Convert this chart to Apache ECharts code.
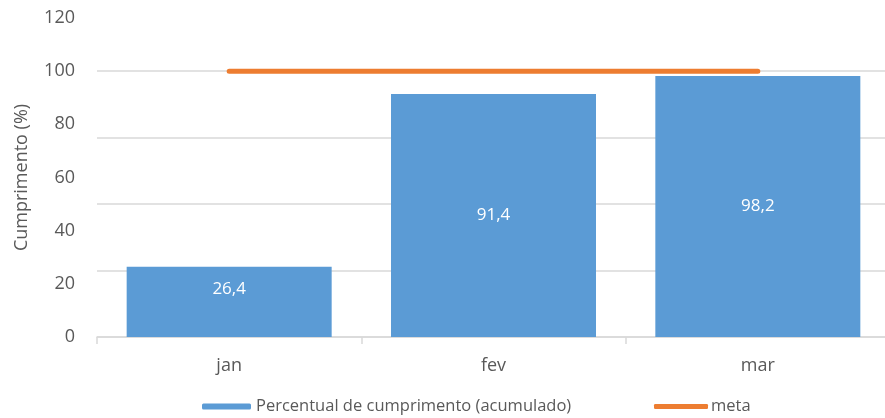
<!DOCTYPE html>
<html>
<head>
<meta charset="utf-8">
<script src="https://cdn.jsdelivr.net/npm/echarts@6/dist/echarts.min.js"></script>
<style>
  html, body { margin: 0; padding: 0; background: #fff; }
  #chart { width: 885px; height: 418px; }
</style>
</head>
<body>
<div id="chart"></div>
<script>
const months = ["jan", "fev", "mar"];
const cumprimento = [26.4, 91.4, 98.2];
const meta = [100, 100, 100];
const yTicks = { min: 0, max: 120, interval: 20 };

const FONT = "Open Sans";
const TXT = "#595959";
const GRID = "#D9D9D9";

const chart = echarts.init(document.getElementById("chart"));

const option = {
  animation: false,
  textStyle: { fontFamily: FONT },
  // a área do gráfico original passa um pouco da borda direita
  grid: { left: 97, top: 18, width: 793, height: 319, outerBoundsMode: "none" },
  legend: [
    {
      left: 202,
      top: 398,
      padding: 0,
      data: ["Percentual de cumprimento (acumulado)"],
      itemWidth: 49,
      itemHeight: 6,
      textStyle: { color: TXT, fontSize: 16.5, fontFamily: FONT }
    },
    {
      left: 654,
      top: 398,
      padding: 0,
      data: [{ name: "meta", icon: "roundRect" }],
      itemWidth: 54,
      itemHeight: 5,
      textStyle: { color: TXT, fontSize: 16.5, fontFamily: FONT, padding: [0, 0, 0, -2] }
    }
  ],
  xAxis: {
    type: "category",
    data: months,
    axisLine: { lineStyle: { color: GRID, width: 1.5 } },
    axisTick: { show: true, length: 7, lineStyle: { color: GRID, width: 1.5 } },
    axisLabel: { color: TXT, fontSize: 18, margin: 20 }
  },
  yAxis: [
    {
      type: "value",
      min: yTicks.min,
      max: yTicks.max,
      interval: yTicks.interval,
      name: "Cumprimento (%)",
      nameLocation: "middle",
      nameGap: 66,
      nameTextStyle: { color: TXT, fontSize: 18 },
      axisLine: { show: false },
      axisTick: { show: false },
      splitLine: { show: false },
      axisLabel: { color: TXT, fontSize: 18, margin: 22 }
    },
    {
      // linhas de grade do gráfico original (a cada 25)
      type: "value",
      position: "left",
      min: 0,
      max: 120,
      interval: 25,
      axisLine: { show: false },
      axisTick: { show: false },
      axisLabel: { show: false },
      splitLine: { show: true, showMaxLine: false, lineStyle: { color: GRID, width: 1.5 } }
    }
  ],
  series: [
    {
      name: "Percentual de cumprimento (acumulado)",
      type: "bar",
      barWidth: 205,
      itemStyle: { color: "#5B9BD5" },
      label: {
        show: true,
        position: "inside",
        color: "#fff",
        fontSize: 17,
        fontFamily: FONT,
        formatter: p => String(p.value).replace(".", ",")
      },
      data: cumprimento.map((v, i) =>
        i === 0 ? { value: v, label: { offset: [0, -13] } } : v
      )
    },
    {
      name: "meta",
      type: "line",
      symbol: "none",
      z: 5,
      itemStyle: { color: "#ED7D31" },
      lineStyle: { color: "#ED7D31", width: 5, cap: "round" },
      data: meta
    }
  ]
};

chart.setOption(option);
</script>
</body>
</html>
